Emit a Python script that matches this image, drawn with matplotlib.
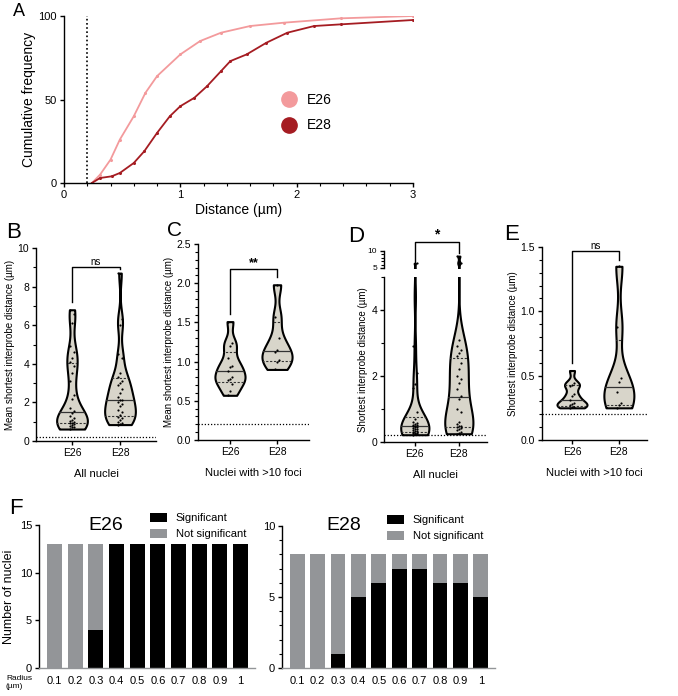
import numpy as np
import matplotlib.pyplot as plt
from matplotlib.ticker import MultipleLocator
from matplotlib.lines import Line2D

plt.rcParams['font.family'] = ['Liberation Sans', 'DejaVu Sans']
plt.rcParams['axes.linewidth'] = 1.0

# ---------------- data ----------------
# A: cumulative frequency curves (distance in um, cumulative %)
cdf_e26_x = [0.24, 0.31, 0.40, 0.48, 0.60, 0.70, 0.80, 1.00, 1.17, 1.35, 1.60, 1.89, 2.38, 3.00]
cdf_e26_y = [0, 5, 14, 26, 40, 54, 64, 77, 85, 90, 94, 96, 98.6, 100]
cdf_e28_x = [0.24, 0.31, 0.41, 0.48, 0.60, 0.69, 0.80, 0.91, 1.00, 1.12, 1.23, 1.35, 1.43,
             1.57, 1.74, 1.92, 2.15, 2.38, 3.00]
cdf_e28_y = [0, 3, 4, 6, 12, 19, 30, 40, 46, 51, 58, 67, 73, 77, 84, 90, 94, 95, 97.6]

groups = ['E26', 'E28']

# B: mean shortest interprobe distance, all nuclei
b_e26 = [0.62, 0.7, 0.75, 0.8, 0.85, 0.88, 0.92, 0.95, 1.0, 1.05, 1.1, 1.2, 1.3, 1.45, 1.55,
         1.7, 2.2, 2.4, 3.1, 3.5, 3.9, 4.1, 4.3, 4.6, 4.9, 6.1, 6.6, 6.8]
b_e28 = [0.85, 0.9, 0.95, 1.0, 1.1, 1.2, 1.25, 1.35, 1.5, 1.6, 1.8, 1.9, 2.0, 2.1, 2.15,
         2.3, 2.5, 2.7, 2.9, 3.0, 3.1, 3.3, 3.5, 4.3, 4.5, 6.0, 6.3, 8.7]
# C: mean shortest distance, nuclei with >10 foci
c_e26 = [0.57, 0.63, 0.72, 0.77, 0.78, 0.8, 0.88, 0.93, 0.95, 1.05, 1.2, 1.24, 1.51]
c_e28 = [0.9, 1.0, 1.02, 1.12, 1.15, 1.3, 1.57, 1.98]
# D: shortest interprobe distance, all nuclei
d_e26 = [0.22, 0.23, 0.25, 0.26, 0.27, 0.28, 0.3, 0.32, 0.34, 0.36, 0.38, 0.4, 0.42, 0.44,
         0.46, 0.48, 0.5, 0.52, 0.53, 0.55, 0.58, 0.62, 0.7, 0.9, 1.65, 1.75, 2.1, 2.9, 4.4, 6.4]
d_e28 = [0.25, 0.28, 0.3, 0.35, 0.4, 0.42, 0.45, 0.48, 0.5, 0.55, 0.6, 0.9, 1.0, 1.3, 1.4,
         1.6, 1.8, 1.9, 2.0, 2.2, 2.4, 2.6, 2.7, 2.8, 2.9, 3.1, 6.5, 8.5]
# E: shortest distance, nuclei with >10 foci
e_e26 = [0.25, 0.26, 0.26, 0.27, 0.28, 0.29, 0.31, 0.34, 0.36, 0.42, 0.43, 0.44, 0.54]
e_e28 = [0.25, 0.27, 0.29, 0.37, 0.45, 0.48, 0.88, 1.35]

# F: number of nuclei with significant clustering per radius
radius = ['0.1', '0.2', '0.3', '0.4', '0.5', '0.6', '0.7', '0.8', '0.9', '1']
f_e26_sig = [0, 0, 4, 13, 13, 13, 13, 13, 13, 13]
f_e26_total = 13
f_e28_sig = [0, 0, 1, 5, 6, 7, 7, 6, 6, 5]
f_e28_total = 8

cutoff = 0.2

col_e26 = '#f39a9c'
col_e28 = '#a51c22'
violin_face = '#d8d5ca'
grey = '#939598'

W, H = 678, 696
fig = plt.figure(figsize=(W / 100, H / 100), dpi=100)


def px_axes(x0, y0, x1, y1):
    return fig.add_axes([x0 / W, 1 - y1 / H, (x1 - x0) / W, (y1 - y0) / H])


def letter(x, y, s, fs=16):
    fig.text(x / W, 1 - y / H, s, fontsize=fs, va='center', ha='center')


def style(ax):
    ax.spines['top'].set_visible(False)
    ax.spines['right'].set_visible(False)
    ax.tick_params(labelsize=7.5, length=3, width=1, pad=2)
    ax.tick_params(which='minor', length=2, width=0.8)


def violins(ax, datasets, bw=0.35):
    pos = np.arange(len(datasets))
    parts = ax.violinplot(datasets, positions=pos, widths=0.64, showextrema=False,
                          bw_method=bw, points=300)
    for p, d, body in zip(pos, datasets, parts['bodies']):
        body.set_facecolor(violin_face)
        body.set_edgecolor('black')
        body.set_linewidth(1.5)
        body.set_alpha(1)
        path = body.get_paths()[0]
        q1, med, q3 = np.percentile(d, [25, 50, 75], method='weibull')
        ln, = ax.plot([p - 0.5, p + 0.5], [med, med], color='#333333', lw=0.9)
        ln.set_clip_path(path, ax.transData)
        for q in (q1, q3):
            ln, = ax.plot([p - 0.5, p + 0.5], [q, q], color='#333333', lw=0.8, ls=(0, (2, 1.5)))
            ln.set_clip_path(path, ax.transData)
        offs = ((np.arange(len(d)) % 3) - 1) * 0.05
        ax.scatter(p + offs, d, s=2.5, color='black', zorder=3, linewidths=0)
    return parts


def bracket(ax, yl, yr, top, text, fs=8, bold=False):
    ax.plot([0, 0, 1, 1], [yl, top, top, yr], color='black', lw=1, clip_on=False)
    ax.text(0.5, top, text, ha='center', va='bottom', fontsize=fs,
            fontweight='bold' if bold else 'normal')


# ---------------- A ----------------
axA = px_axes(64, 16, 413, 183)
axA.plot(cdf_e26_x, cdf_e26_y, color=col_e26, lw=1.3, marker='o', ms=1.2)
axA.plot(cdf_e28_x, cdf_e28_y, color=col_e28, lw=1.3, marker='o', ms=1.2)
axA.axvline(cutoff, color='black', ls=(0, (1, 1.5)), lw=1.2)
axA.set_xlim(0, 3)
axA.set_ylim(0, 100)
axA.set_xticks([0, 1, 2, 3])
axA.xaxis.set_minor_locator(MultipleLocator(0.2))
axA.set_yticks([0, 50, 100])
style(axA)
axA.tick_params(labelsize=8)
axA.set_xlabel('Distance (µm)', fontsize=10, labelpad=2)
axA.set_ylabel('Cumulative frequency', fontsize=10, labelpad=2)
handles = [Line2D([], [], ls='none', marker='o', ms=11, color=c) for c in (col_e26, col_e28)]
axA.legend(handles, groups, loc='center left', bbox_to_anchor=(0.57, 0.42), frameon=False,
           fontsize=10, handletextpad=0.3, labelspacing=0.8)
letter(19, 11, 'A', 13)

# ---------------- B ----------------
axB = px_axes(36, 248, 156, 441)
violins(axB, [b_e26, b_e28], bw=0.3)
axB.axhline(cutoff, color='black', ls=(0, (1, 1.5)), lw=0.9)
axB.set_xlim(-0.75, 1.75)
axB.set_ylim(0, 10)
axB.yaxis.set_major_locator(MultipleLocator(2))
axB.yaxis.set_minor_locator(MultipleLocator(1))
axB.set_xticks([0, 1], groups)
style(axB)
axB.set_ylabel('Mean shortest interprobe distance (µm)', fontsize=7, labelpad=2)
axB.set_xlabel('All nuclei', fontsize=8, labelpad=8)
bracket(axB, max(b_e26) + 0.4, max(b_e28) + 0.2, max(b_e28) + 0.3, 'ns', fs=7)
letter(14, 233, 'B', 16)

# ---------------- C ----------------
axC = px_axes(198, 244, 309, 440)
violins(axC, [c_e26, c_e28], bw=0.35)
axC.axhline(cutoff, color='black', ls=(0, (1, 1.5)), lw=0.9)
axC.set_xlim(-0.68, 1.68)
axC.set_ylim(0, 2.5)
axC.yaxis.set_major_locator(MultipleLocator(0.5))
axC.yaxis.set_minor_locator(MultipleLocator(0.1))
axC.yaxis.set_major_formatter('{x:.1f}')
axC.set_xticks([0, 1], groups)
style(axC)
axC.set_ylabel('Mean shortest interprobe distance (µm)', fontsize=7, labelpad=2)
axC.set_xlabel('Nuclei with >10 foci', fontsize=8, labelpad=8)
bracket(axC, max(c_e26) + 0.1, max(c_e28) + 0.1, max(c_e28) + 0.2, '**', fs=9, bold=True)
letter(175, 230, 'C', 15)

# ---------------- D (broken axis) ----------------
axD = px_axes(384, 277, 487, 442)
axDt = px_axes(384, 251, 487, 268)
for ax in (axD, axDt):
    violins(ax, [d_e26, d_e28], bw=0.3)
    ax.set_xlim(-0.7, 1.64)
    style(ax)
axD.axhline(cutoff, color='black', ls=(0, (1, 1.5)), lw=0.9)
axD.set_ylim(0, 5)
axD.set_yticks([0, 2, 4])
axD.yaxis.set_minor_locator(MultipleLocator(1))
axD.set_xticks([0, 1], groups)
axD.set_ylabel('Shortest interprobe distance (µm)', fontsize=7, labelpad=2)
axD.set_xlabel('All nuclei', fontsize=8, labelpad=8)
axDt.set_ylim(5, 10)
axDt.set_yticks([5, 10])
axDt.yaxis.set_minor_locator(MultipleLocator(1))
axDt.spines['bottom'].set_visible(False)
axDt.set_xticks([])
axDt.tick_params(labelsize=6)
bracket(axDt, max(d_e26) + 0.4, max(d_e28) + 1.0, 12.7, '*', fs=10, bold=True)
letter(356, 236, 'D', 16)

# ---------------- E ----------------
axE = px_axes(542, 247, 647, 440)
violins(axE, [e_e26, e_e28], bw=0.35)
axE.axhline(cutoff, color='black', ls=(0, (1, 1.5)), lw=0.9)
axE.set_xlim(-0.64, 1.6)
axE.set_ylim(0, 1.5)
axE.yaxis.set_major_locator(MultipleLocator(0.5))
axE.yaxis.set_minor_locator(MultipleLocator(0.1))
axE.yaxis.set_major_formatter('{x:.1f}')
axE.set_xticks([0, 1], groups)
style(axE)
axE.set_ylabel('Shortest interprobe distance (µm)', fontsize=7, labelpad=2)
axE.set_xlabel('Nuclei with >10 foci', fontsize=8, labelpad=8)
bracket(axE, max(e_e26) + 0.06, max(e_e28) + 0.05, max(e_e28) + 0.12, 'ns', fs=7)
letter(512, 234, 'E', 16)

# ---------------- F ----------------
def stacked(ax, sig, total, title, ylim, leg_xy, title_x):
    x = np.arange(len(radius))
    sig = np.array(sig)
    ax.bar(x, sig, width=0.72, color='black', label='Significant')
    ax.bar(x, total - sig, bottom=sig, width=0.72, color=grey, label='Not significant')
    ax.set_xlim(-0.75, len(radius) - 0.3)
    ax.set_ylim(0, ylim)
    ax.set_xticks(x, radius)
    ax.yaxis.set_major_locator(MultipleLocator(5))
    style(ax)
    ax.spines['bottom'].set_color(grey)
    ax.tick_params(axis='x', length=0, labelsize=8, pad=6)
    ax.tick_params(axis='y', labelsize=8)
    ax.text(title_x, 1.0, title, transform=ax.transAxes, ha='center', va='center', fontsize=14)
    ax.legend(loc='upper left', bbox_to_anchor=leg_xy, bbox_transform=fig.transFigure,
              frameon=False, fontsize=8, handlelength=1.5, handleheight=0.9,
              labelspacing=0.5, handletextpad=0.8)


axF1 = px_axes(39, 525, 255, 668)
stacked(axF1, f_e26_sig, f_e26_total, 'E26', 15, (140 / W, 1 - 503 / H), 0.31)
fig.text(9 / W, 1 - 597 / H, 'Number of nuclei', fontsize=9, rotation=90,
         va='center', ha='center')
axF2 = px_axes(282, 526, 495, 668)
stacked(axF2, f_e28_sig, f_e28_total, 'E28', 10, (377 / W, 1 - 505 / H), 0.29)
axF2.yaxis.set_minor_locator(MultipleLocator(1))
fig.text(6 / W, 1 - 682 / H, 'Radius\n(µm)', fontsize=6, va='center', ha='left')
letter(16, 508, 'F', 16)

fig.savefig('out.png', dpi=100)
